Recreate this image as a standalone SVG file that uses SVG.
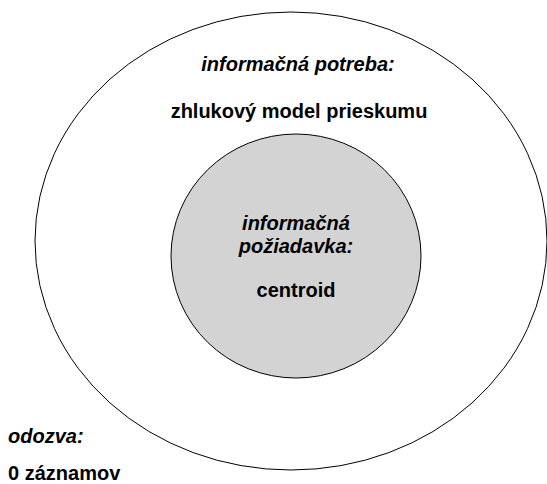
<svg xmlns="http://www.w3.org/2000/svg" width="547" height="484" viewBox="0 0 547 484">
  <style>
    .lbl { font-family: "Liberation Sans", Arial, sans-serif; font-size: 20px; font-weight: bold; fill: #000; }
    .it { font-style: italic; }
    .mid { text-anchor: middle; }
  </style>
  <rect width="547" height="484" fill="#ffffff"/>
  <g id="need">
    <ellipse cx="291" cy="241" rx="256" ry="229" fill="#ffffff" stroke="#000" stroke-width="1"/>
    <text class="lbl it mid" x="298" y="71">informačná potreba:</text>
    <text class="lbl mid" x="299" y="118">zhlukový model prieskumu</text>
  </g>
  <g id="request">
    <ellipse cx="296" cy="256" rx="125" ry="122" fill="#d3d3d3" stroke="#000" stroke-width="1"/>
    <text class="lbl it mid" x="296" y="230">informačná</text>
    <text class="lbl it mid" x="296" y="253">požiadavka:</text>
    <text class="lbl mid" x="296" y="297">centroid</text>
  </g>
  <g id="response">
    <text class="lbl it" x="8" y="443">odozva:</text>
    <text class="lbl" x="8" y="480">0 záznamov</text>
  </g>
  <g id="connectors"/>
</svg>
